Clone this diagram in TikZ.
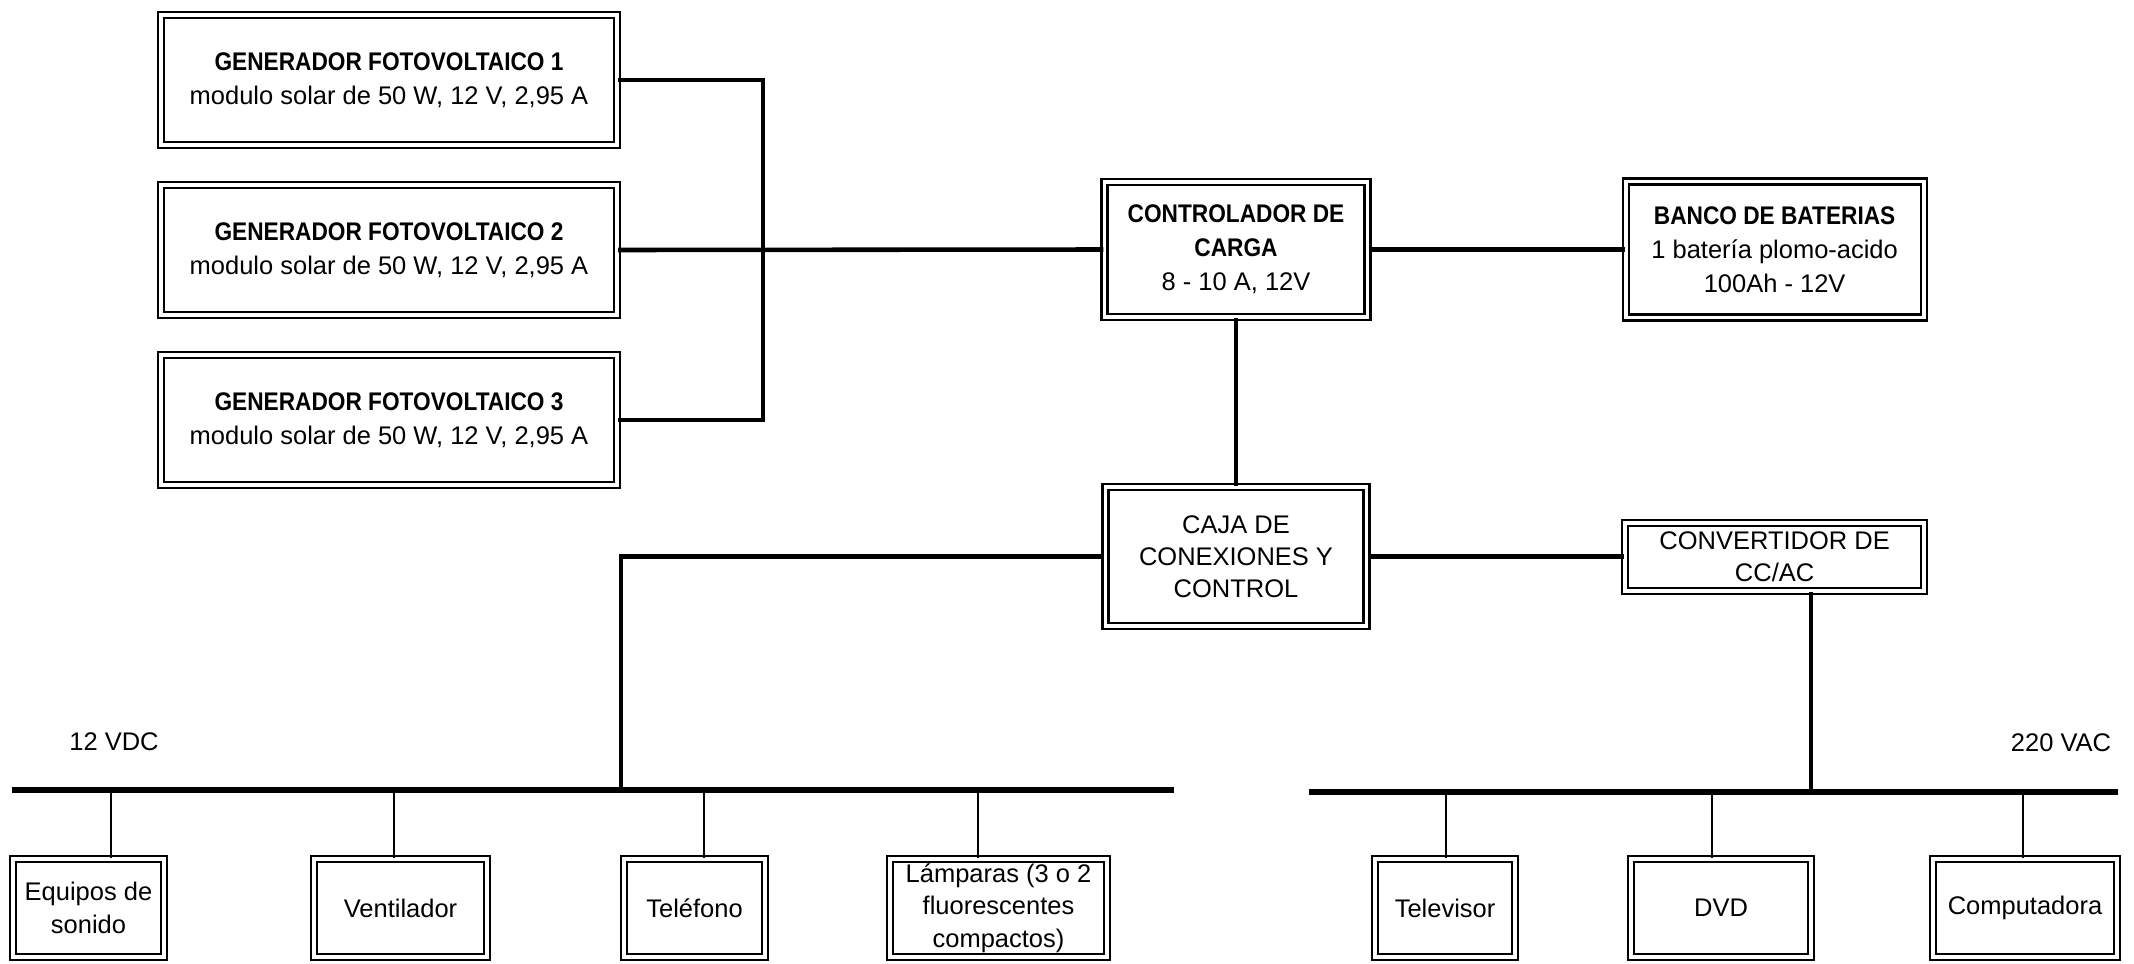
\documentclass[tikz,border=0pt]{standalone}
\usepackage{fontspec}
\setmainfont{Liberation Sans}
\newfontfamily\narrowfont{Liberation Sans}[FakeStretch=0.89]
\newcommand{\headtxt}[1]{{\narrowfont\bfseries #1}}
\usepackage{tikz}
\usetikzlibrary{positioning,calc}
\tikzset{
	semithick,
	box/.style = {draw, double, double distance=1.1pt, line width=0.6pt,
		align=center, inner sep=1pt,
		font=\fontsize{7.25pt}{9.7pt}\selectfont},
	gen/.style = {box, minimum width=4.56cm, minimum height=1.30cm},
	load/.style = {box, minimum height=0.98cm,
		font=\fontsize{7.25pt}{9.2pt}\selectfont},
	wire/.style = {line width=1.3pt},
	bus/.style = {line width=1.8pt},
	stub/.style = {line width=0.45pt},
	lbl/.style = {font=\fontsize{7.25pt}{9.7pt}\selectfont},
}

\begin{document}
\begin{tikzpicture}[node distance = 0.38cm]
	\useasboundingbox (0,0) rectangle (21.34,9.63);
	% generadores
	\node (gen2) [gen] at (3.89,7.13) {\headtxt{GENERADOR FOTOVOLTAICO 2}\\modulo solar de 50 W, 12 V, 2,95 A};
	\node (gen1) [gen, above = of gen2] {\headtxt{GENERADOR FOTOVOLTAICO 1}\\modulo solar de 50 W, 12 V, 2,95 A};
	\node (gen3) [gen, below = of gen2] {\headtxt{GENERADOR FOTOVOLTAICO 3}\\modulo solar de 50 W, 12 V, 2,95 A};
	\coordinate (jn) at (7.63,7.13);

	\node (ctrl) [box, minimum width=2.63cm, minimum height=1.35cm] at (12.36,7.135) {\headtxt{CONTROLADOR DE}\\\headtxt{CARGA}\\8 - 10 A, 12V};
	\node (banco) [box, right = 2.56cm of ctrl, minimum width=2.98cm, minimum height=1.36cm] {\headtxt{BANCO DE BATERIAS}\\1 batería plomo-acido\\100Ah - 12V};
	\node (caja) [box, below = 1.68cm of ctrl, minimum width=2.61cm, minimum height=1.39cm,
		font=\fontsize{7.25pt}{9.1pt}\selectfont] {CAJA DE\\CONEXIONES Y\\CONTROL};
	\node (conv) [box, minimum width=2.99cm, minimum height=0.68cm,
		font=\fontsize{7.25pt}{9.1pt}\selectfont] at (banco |- caja) {CONVERTIDOR DE\\CC/AC};

	% barras
	\coordinate (dcl) at (0.12,1.73);
	\coordinate (dcr) at (11.74,1.73);
	\coordinate (acl) at (13.09,1.71);
	\coordinate (acr) at (21.18,1.71);
	\coordinate (dcin) at (6.21,1.73);
	\coordinate (acin) at (18.11,1.71);
	\node (vdc) [lbl] at (1.14,2.21) {12 VDC};
	\node (vac) [lbl] at (20.61,2.20) {220 VAC};

	% cargas
	\node (equipos) [load, minimum width=1.51cm] at (0.885,0.55) {Equipos de\\sonido};
	\node (ventilador) [load, minimum width=1.73cm] at (4.005,0.55) {Ventilador};
	\node (telefono) [load, minimum width=1.41cm] at (6.945,0.55) {Teléfono};
	\node (lamparas) [load, minimum width=2.17cm] at (9.985,0.55) {Lámparas (3 o 2\\fluorescentes\\compactos)};
	\node (televisor) [load, minimum width=1.40cm] at (14.45,0.55) {Televisor};
	\node (dvd) [load, minimum width=1.80cm] at (17.21,0.55) {DVD};
	\node (computadora) [load, minimum width=1.84cm] at (20.25,0.55) {Computadora};
	\coordinate (t1) at (1.11,1.73);
	\coordinate (t2) at (3.94,1.73);
	\coordinate (t3) at (7.04,1.73);
	\coordinate (t4) at (9.78,1.73);
	\coordinate (t5) at (14.46,1.71);
	\coordinate (t6) at (17.12,1.71);
	\coordinate (t7) at (20.23,1.71);

	\draw[wire] (gen1.east) -| (jn) |- (gen3.east);
	\draw[wire] (gen2.east) -- (ctrl.west);
	\draw[wire] (ctrl.east) -- (banco.west);
	\draw[wire] (ctrl.south) -- (ctrl.south |- caja.north);
	\draw[wire] (caja.east) -- (conv.west);
	\draw[wire] (caja.west) -| (dcin);
	\draw[wire] (acin |- conv.south) -- (acin);
	\draw[bus] (dcl) -- (dcr);
	\draw[bus] (acl) -- (acr);
	\draw[stub] (t1) -- (t1 |- equipos.north);
	\draw[stub] (t2) -- (t2 |- ventilador.north);
	\draw[stub] (t3) -- (t3 |- telefono.north);
	\draw[stub] (t4) -- (t4 |- lamparas.north);
	\draw[stub] (t5) -- (t5 |- televisor.north);
	\draw[stub] (t6) -- (t6 |- dvd.north);
	\draw[stub] (t7) -- (t7 |- computadora.north);
\end{tikzpicture}
\end{document}
